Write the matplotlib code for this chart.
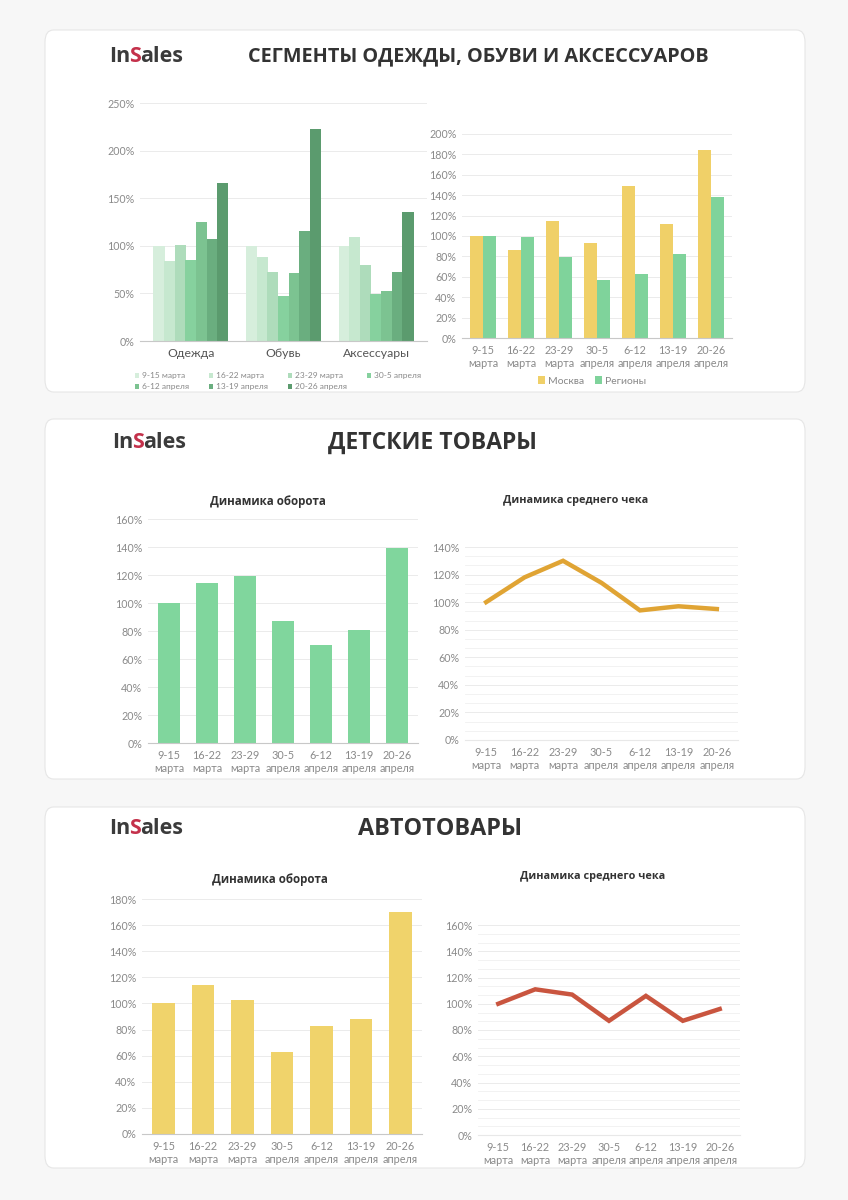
import numpy as np
import matplotlib
matplotlib.use('Agg')
import matplotlib.pyplot as plt
from matplotlib.patches import FancyBboxPatch
from matplotlib.ticker import MultipleLocator, FuncFormatter

# Data
weeks = ['9-15\nмарта', '16-22\nмарта', '23-29\nмарта', '30-5\nапреля',
         '6-12\nапреля', '13-19\nапреля', '20-26\nапреля']
week_names = ['9-15 марта', '16-22 марта', '23-29 марта', '30-5 апреля',
              '6-12 апреля', '13-19 апреля', '20-26 апреля']
segments = ['Одежда', 'Обувь', 'Аксессуары']
clothes = [100, 84, 101, 85, 125, 107, 166]
shoes = [100, 88, 72, 47, 71, 116, 223]
accessories = [100, 109, 80, 49, 52, 72, 135]
moscow = [100, 86, 115, 93, 149, 112, 184]
regions = [100, 99, 79, 57, 63, 82, 138]
kids_turnover = [100, 114, 119, 87, 70, 81, 139]
kids_check = [100, 118, 130, 114, 94, 97, 95]
auto_turnover = [100, 114, 103, 63, 83, 88, 170]
auto_check = [100, 111, 107, 87, 106, 87, 96]

W, H = 848, 1200
fig = plt.figure(figsize=(W / 100, H / 100), dpi=100)
fig.patch.set_facecolor('#f7f7f7')

TICK = '#8a8a8a'
DARK = '#333333'
pct = FuncFormatter(lambda v, p: '%d%%' % v)


def px_axes(x0, y0, x1, y1):
    # axes from pixel box (top-left origin)
    return fig.add_axes([x0 / W, 1 - y1 / H, (x1 - x0) / W, (y1 - y0) / H])


def style(ax, top, step, minor=None):
    ax.set_ylim(0, top)
    ax.yaxis.set_major_locator(MultipleLocator(step))
    ax.yaxis.set_major_formatter(pct)
    if minor:
        ax.yaxis.set_minor_locator(MultipleLocator(minor))
        ax.grid(axis='y', which='minor', color='#f0f0f0', lw=0.6)
    ax.grid(axis='y', which='major', color='#ebebeb', lw=0.7)
    ax.set_axisbelow(True)
    for s in ['top', 'right', 'left']:
        ax.spines[s].set_visible(False)
    ax.spines['bottom'].set_color('#c8c8c8')
    ax.tick_params(which='both', length=0, colors=TICK, labelsize=7.7, pad=4)
    ax.patch.set_alpha(0)
    for lab in ax.get_yticklabels():
        lab.set_fontfamily('Lato')


def week_ticks(ax):
    ax.set_xlim(-0.55, 6.55)
    ax.set_xticks(np.arange(len(weeks)))
    ax.set_xticklabels(weeks, fontfamily='Lato', linespacing=1.25, fontsize=7.8)
    ax.tick_params(axis='x', pad=5)


# cards
for y0, y1 in [(30, 392), (419, 779), (807, 1168)]:
    card = FancyBboxPatch((45 / W, 1 - y1 / H), 760 / W, (y1 - y0) / H,
                          boxstyle='round,pad=0,rounding_size=0.01',
                          transform=fig.transFigure, facecolor='white',
                          edgecolor='#e6e6e6', lw=0.8, zorder=-5)
    fig.patches.append(card)

renderer = fig.canvas.get_renderer()


def logo(x, y):
    for part, col in [('In', '#3b3b3b'), ('S', '#c4314b'), ('ales', '#3b3b3b')]:
        t = fig.text(x / W, 1 - y / H, part, color=col, fontsize=15.5,
                     fontweight='bold', fontfamily='Open Sans', va='center', ha='left')
        bb = t.get_window_extent(renderer)
        x += bb.width - 0.8


logo(109, 56)
logo(112, 443)
logo(109, 829)

fig.text(478 / W, 1 - 56 / H, 'СЕГМЕНТЫ ОДЕЖДЫ, ОБУВИ И АКСЕССУАРОВ', fontsize=14.3,
         fontweight='bold', fontfamily='Open Sans', color=DARK, ha='center', va='center')
fig.text(432 / W, 1 - 443 / H, 'ДЕТСКИЕ ТОВАРЫ', fontsize=16.5,
         fontweight='bold', fontfamily='Open Sans', color=DARK, ha='center', va='center')
fig.text(440 / W, 1 - 829 / H, 'АВТОТОВАРЫ', fontsize=16.8,
         fontweight='bold', fontfamily='Open Sans', color=DARK, ha='center', va='center')

# 1. segments grouped bars
ax = px_axes(140, 103, 427, 341)
greens = ['#d6eedc', '#c6e8cf', '#aedcbb', '#86d19e', '#7cc391', '#6aae7f', '#5b9b6e']
table = np.array([clothes, shoes, accessories])
x = np.arange(len(segments))
bw = 0.115
bars = []
for i in range(len(week_names)):
    b = ax.bar(x + (i - 3) * bw, table[:, i], bw * 1.05, color=greens[i], label=week_names[i])
    bars.append(b)
style(ax, 250, 50)
ax.set_xlim(-0.55, 2.55)
ax.set_xticks(x)
ax.set_xticklabels(segments, fontfamily='Lato', fontsize=8.8, color='#555555')
ax.tick_params(axis='x', pad=5)
order = [0, 4, 1, 5, 2, 6, 3]
ax.legend([bars[i] for i in order], [week_names[i] for i in order], ncol=4,
          loc='upper left', bbox_to_anchor=(127 / W, 1 - 365 / H), bbox_transform=fig.transFigure,
          frameon=False, handlelength=0.5, handleheight=0.5,
          handletextpad=0.35, columnspacing=2.4, labelspacing=0.45,
          labelcolor='#888888', prop={'family': 'Lato', 'size': 6})

# 2. Moscow vs regions
ax = px_axes(462, 134, 732, 338)
x = np.arange(len(weeks))
ax.bar(x - 0.175, moscow, 0.35, color='#f0d068', label='Москва')
ax.bar(x + 0.175, regions, 0.35, color='#7fd39b', label='Регионы')
style(ax, 200, 20)
week_ticks(ax)
ax.legend(loc='center', bbox_to_anchor=(592 / W, 1 - 381 / H), bbox_transform=fig.transFigure,
          ncol=2, frameon=False, handlelength=0.7, handleheight=0.7, handletextpad=0.3,
          columnspacing=1.0, labelcolor='#888888', prop={'family': 'Lato', 'size': 7.5})

# 3. kids turnover
ax = px_axes(148, 519, 418, 743)
ax.bar(x, kids_turnover, 0.56, color='#80d69d')
style(ax, 160, 20)
week_ticks(ax)
fig.text(268 / W, 1 - 501 / H, 'Динамика оборота', fontsize=8.3, fontweight='bold',
         fontfamily='Open Sans', color=DARK, ha='center', va='center')

# 4. kids average check
ax = px_axes(465, 547, 738, 740)
ax.plot(x, kids_check, color='#e0a434', lw=3.2, solid_joinstyle='miter')
style(ax, 140, 20, minor=20 / 3)
week_ticks(ax)
ax.spines['bottom'].set_color('#e8e8e8')
fig.text(576 / W, 1 - 500 / H, 'Динамика среднего чека', fontsize=7.8, fontweight='bold',
         fontfamily='Open Sans', color=DARK, ha='center', va='center')

# 5. auto turnover
ax = px_axes(142, 899, 422, 1134)
ax.bar(x, auto_turnover, 0.57, color='#f0d36b')
style(ax, 180, 20)
week_ticks(ax)
fig.text(270 / W, 1 - 880 / H, 'Динамика оборота', fontsize=8.3, fontweight='bold',
         fontfamily='Open Sans', color=DARK, ha='center', va='center')

# 6. auto average check
ax = px_axes(478, 925, 740, 1135)
ax.plot(x, auto_check, color='#c9553f', lw=3.2, solid_joinstyle='miter')
style(ax, 160, 20, minor=20 / 3)
week_ticks(ax)
ax.spines['bottom'].set_color('#e8e8e8')
fig.text(593 / W, 1 - 876 / H, 'Динамика среднего чека', fontsize=7.8, fontweight='bold',
         fontfamily='Open Sans', color=DARK, ha='center', va='center')

plt.savefig('out.png', dpi=100, facecolor=fig.get_facecolor())
